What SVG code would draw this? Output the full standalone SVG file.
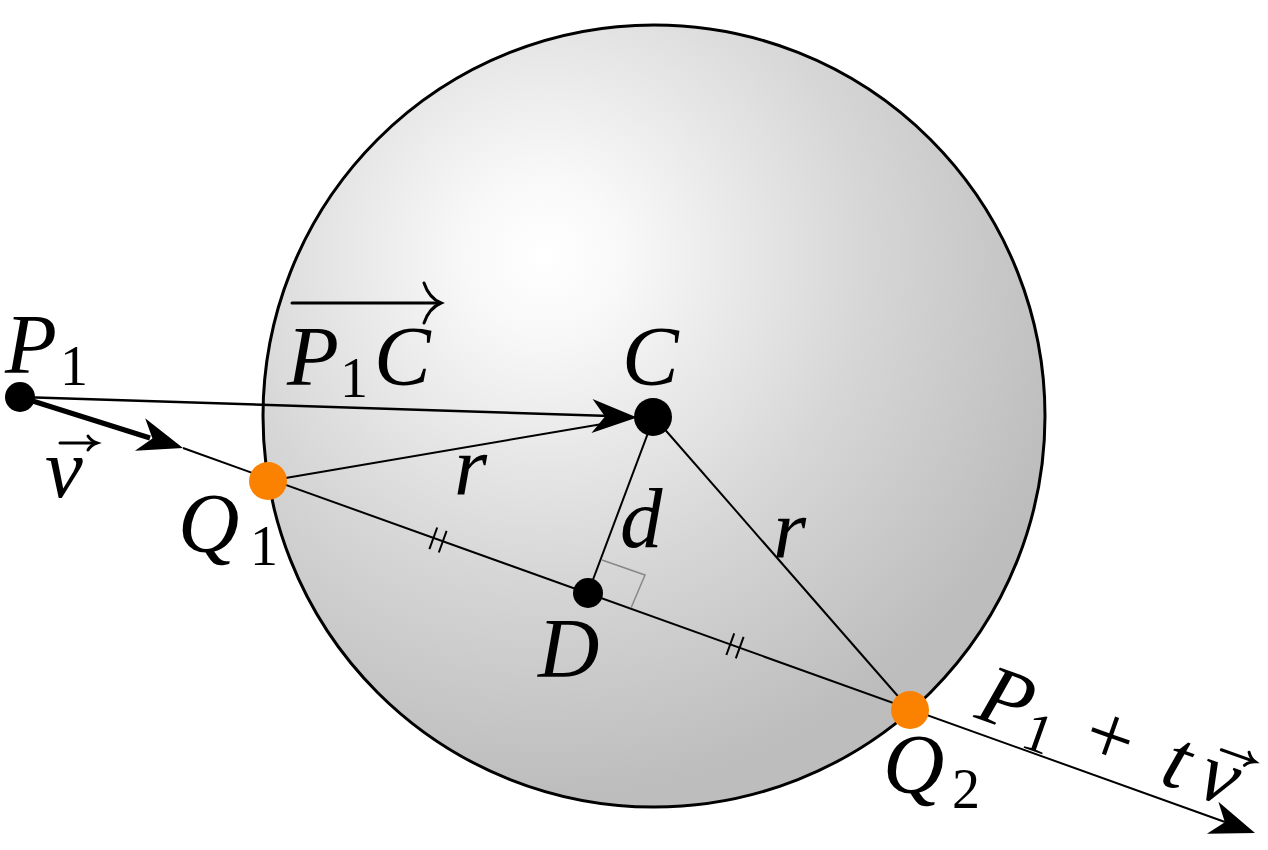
<svg xmlns="http://www.w3.org/2000/svg" width="1268" height="850" viewBox="0 0 1268 850">
<defs>
<radialGradient id="sph" gradientUnits="userSpaceOnUse" cx="545" cy="255" r="540">
<stop offset="0" stop-color="#ffffff"/>
<stop offset="0.15" stop-color="#f8f8f8"/>
<stop offset="0.6" stop-color="#d6d6d6"/>
<stop offset="1" stop-color="#bdbdbd"/>
</radialGradient>
<path id="ah" d="M0,0 L-45,-17 L-32,0 L-45,17 Z"/>
</defs>
<style>
text{font-family:'Liberation Serif','Times New Roman',serif;fill:#000}
.m{font-style:italic;font-size:85px}
.s{font-size:56px}
.u{font-size:85px}
.ln{stroke:#000;stroke-width:2;fill:none}
.acc{stroke:#000;stroke-width:3;fill:none;stroke-linecap:round}
.q{fill:#fb8200}
.k{fill:#000}
</style>
<g id="sphere">
<circle cx="654" cy="416" r="391" fill="url(#sph)" stroke="#000" stroke-width="3"/>
</g>
<g id="connectors">
<line class="ln" x1="183" y1="448" x2="1225" y2="822"/>
<use href="#ah" transform="translate(1255,833) rotate(19.75)"/>
<line x1="20" y1="397" x2="150" y2="438" stroke="#000" stroke-width="5"/>
<use href="#ah" transform="translate(183,448) rotate(17.4)"/>
<line x1="20" y1="397" x2="610" y2="416" stroke="#000" stroke-width="2.5"/>
<use href="#ah" transform="translate(637,417.5) rotate(1.8)"/>
<line class="ln" x1="268" y1="481" x2="620" y2="421"/>
<line class="ln" x1="654" y1="417" x2="588" y2="593"/>
<line class="ln" x1="654" y1="417" x2="910" y2="710"/>
<polyline points="602,560 645,575 631,608" fill="none" stroke="#888" stroke-width="1.5"/>
<g stroke="#000" stroke-width="2">
<line x1="429.4" y1="549.1" x2="437.2" y2="527.5"/>
<line x1="438.8" y1="552.5" x2="446.6" y2="530.9"/>
<line x1="726.4" y1="655" x2="734.2" y2="633.4"/>
<line x1="735.8" y1="658.4" x2="743.6" y2="636.8"/>
</g>
</g>
<g id="P1"><circle class="k" cx="20" cy="397" r="15"/></g>
<g id="C"><circle class="k" cx="653" cy="417" r="19"/></g>
<g id="D"><circle class="k" cx="588" cy="593" r="15"/></g>
<g id="Q1"><circle class="q" cx="268" cy="481" r="19"/></g>
<g id="Q2"><circle class="q" cx="910" cy="710" r="19"/></g>
<g id="labels">
<text class="m" x="5" y="373">P</text><text class="s" x="60" y="385">1</text>
<text class="m" x="287" y="385">P</text><text class="s" x="340" y="397">1</text><text class="m" x="374" y="385">C</text>
<line class="acc" x1="292" y1="303" x2="438" y2="303"/>
<path class="acc" d="M424,283 Q429,298 441,303 Q429,308 424,323"/>
<text class="m" x="622" y="385">C</text>
<text class="m" x="454" y="495">r</text>
<text class="m" x="178" y="552">Q</text><text class="s" x="250" y="565">1</text>
<text class="m" x="620" y="547">d</text>
<text class="m" x="773" y="558">r</text>
<text class="m" x="538" y="677">D</text>
<text class="m" x="45" y="497">v</text>
<line class="acc" x1="60" y1="443" x2="95" y2="443" stroke-width="2.5"/>
<path class="acc" d="M88,436 Q91,441 97,443 Q91,445 88,450" stroke-width="2.5"/>
<text class="m" x="883" y="793">Q</text><text class="s" x="952" y="808">2</text>
<g transform="translate(973,717) rotate(19.5)">
<text class="m" x="0" y="0">P</text><text class="s" x="53" y="12">1</text>
<text class="u" x="112" y="0">+</text>
<text class="m" x="196" y="0">t</text>
<text class="m" x="234" y="0">v</text>
<line class="acc" x1="245" y1="-52" x2="279" y2="-52" stroke-width="2.5"/>
<path class="acc" d="M272,-59 Q275,-54 281,-52 Q275,-50 272,-45" stroke-width="2.5"/>
</g>
</g>
</svg>
